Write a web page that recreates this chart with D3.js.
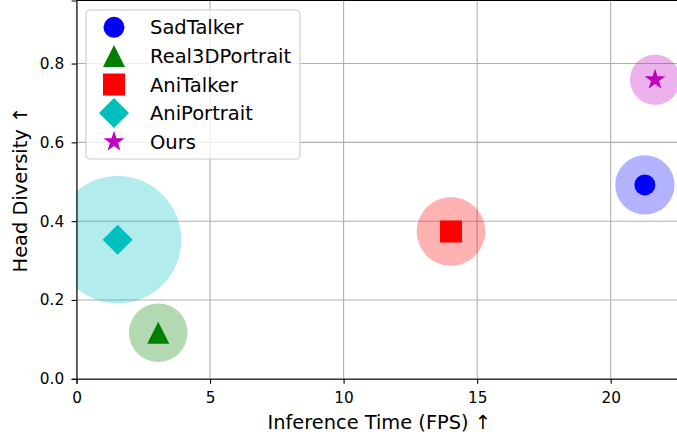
<!DOCTYPE html>
<html>
<head>
<meta charset="utf-8">
<script src="https://cdn.jsdelivr.net/npm/d3@7"></script>
<style>
  body { margin: 0; background: #fff; }
  svg { display: block; font-family: "DejaVu Sans", sans-serif; }
</style>
</head>
<body>
<svg id="chart" width="677" height="436"></svg>
<script>
// data
const methods = ["SadTalker", "Real3DPortrait", "AniTalker", "AniPortrait", "Ours"];
const fps = [21.28, 3.06, 14.02, 1.54, 21.66];
const headDiversity = [0.492, 0.117, 0.374, 0.353, 0.759];
const bubbleSize = [8.8, 8.6, 11.8, 40.6, 6.3];
const xTicks = [0, 5, 10, 15, 20];
const yTicks = [0, 0.2, 0.4, 0.6, 0.8];

const colors = ["#0000ff", "#008000", "#ff0000", "#00bfbf", "#bf00bf"];

// matplotlib-like marker shapes as d3 symbol types (size = width in px here)
const markerCircle = { draw(ctx, w) { const r = w / 2; ctx.moveTo(r, 0); ctx.arc(0, 0, r, 0, 2 * Math.PI); } };
const markerSquare = { draw(ctx, w) { const h = w / 2; ctx.rect(-h, -h, w, w); } };
const markerTriangle = { draw(ctx, w) { const h = w / 2; ctx.moveTo(0, -h); ctx.lineTo(h, h); ctx.lineTo(-h, h); ctx.closePath(); } };
const markerDiamond = { draw(ctx, w) { const h = w / 2; ctx.moveTo(0, -h); ctx.lineTo(h, 0); ctx.lineTo(0, h); ctx.lineTo(-h, 0); ctx.closePath(); } };
const markerStar = { draw(ctx, w) {
    const R = w / 2 / Math.sin(Math.PI * 2 / 5), r = R * 0.381966;
    for (let i = 0; i < 10; i++) {
        const a = -Math.PI / 2 + i * Math.PI / 5, rr = i % 2 ? r : R;
        if (i === 0) ctx.moveTo(rr * Math.cos(a), rr * Math.sin(a));
        else ctx.lineTo(rr * Math.cos(a), rr * Math.sin(a));
    }
    ctx.closePath();
} };
const markers = [
    { type: markerCircle, w: 21 },
    { type: markerTriangle, w: 22 },
    { type: markerSquare, w: 22 },
    { type: markerDiamond, w: 30 },
    { type: markerStar, w: 21 }
];

const points = methods.map((m, i) => ({
    name: m, x: fps[i], y: headDiversity[i], size: bubbleSize[i], color: colors[i], marker: markers[i]
}));

const svg = d3.select("#chart");
const plotLeft = 76.5, plotRight = 682, plotTop = 0.5, plotBottom = 378.8;

const x = d3.scaleLinear().domain([0, 22.67]).range([plotLeft, plotRight]);
const y = d3.scaleLinear().domain([0, 0.96]).range([plotBottom, plotTop]);
const r = d3.scaleSqrt().domain([0, d3.max(bubbleSize)]).range([0, 63.7]);

svg.append("rect").attr("width", 677).attr("height", 436).attr("fill", "#fff");

svg.append("clipPath").attr("id", "plot-clip")
    .append("rect").attr("x", plotLeft).attr("y", plotTop)
    .attr("width", plotRight - plotLeft).attr("height", plotBottom - plotTop);

// grid
const grid = svg.append("g").attr("stroke", "#b0b0b0").attr("stroke-width", 1.1);
grid.selectAll("line.gx").data(xTicks).enter().append("line")
    .attr("x1", d => x(d)).attr("x2", d => x(d)).attr("y1", plotTop).attr("y2", plotBottom);
grid.selectAll("line.gy").data(yTicks).enter().append("line")
    .attr("x1", plotLeft).attr("x2", plotRight).attr("y1", d => y(d)).attr("y2", d => y(d));

const plot = svg.append("g").attr("clip-path", "url(#plot-clip)");

// bubbles
plot.selectAll("circle.bubble").data(points).enter().append("circle")
    .attr("class", "bubble")
    .attr("cx", d => x(d.x)).attr("cy", d => y(d.y)).attr("r", d => r(d.size))
    .attr("fill", d => d.color).attr("fill-opacity", 0.3);

// markers
plot.selectAll("path.marker").data(points).enter().append("path")
    .attr("class", "marker")
    .attr("transform", d => `translate(${x(d.x)},${y(d.y)})`)
    .attr("d", d => d3.symbol(d.marker.type, d.marker.w)())
    .attr("fill", d => d.color);

// axes
const xAxis = svg.append("g").attr("transform", `translate(0,${plotBottom})`)
    .call(d3.axisBottom(x).tickValues(xTicks).tickFormat(d3.format("d")).tickSize(4.9).tickPadding(8.3));
const yAxis = svg.append("g").attr("transform", `translate(${plotLeft},0)`)
    .call(d3.axisLeft(y).tickValues(yTicks).tickFormat(d3.format(".1f")).tickSize(4.9).tickPadding(7.5));
[xAxis, yAxis].forEach(a => {
    a.selectAll("text").attr("font-size", 15.3).attr("font-family", "DejaVu Sans").attr("fill", "#000");
    a.selectAll("line").attr("stroke", "#000").attr("stroke-width", 1.1);
    a.select(".domain").attr("stroke", "#000").attr("stroke-width", 1.1);
});
// top spine
svg.append("line").attr("x1", plotLeft).attr("x2", plotRight).attr("y1", plotTop).attr("y2", plotTop)
    .attr("stroke", "#000").attr("stroke-width", 1.1);

// axis labels
svg.append("text").attr("x", (plotLeft + plotRight) / 2).attr("y", 429.3)
    .attr("text-anchor", "middle").attr("font-size", 19.4)
    .text("Inference Time (FPS) ↑");
svg.append("text").attr("transform", `translate(27,${(plotTop + plotBottom) / 2}) rotate(-90)`)
    .attr("text-anchor", "middle").attr("font-size", 19.4)
    .text("Head Diversity ↑");

// legend
const legend = svg.append("g").attr("transform", "translate(86,10)");
legend.append("rect").attr("width", 214).attr("height", 149).attr("rx", 4)
    .attr("fill", "#fff").attr("fill-opacity", 0.8).attr("stroke", "#cccccc").attr("stroke-width", 1.1);
const items = legend.selectAll("g.item").data(points).enter().append("g")
    .attr("class", "item")
    .attr("transform", (d, i) => `translate(0,${17.3 + i * 28.6})`);
items.append("path")
    .attr("transform", "translate(28,0)")
    .attr("d", d => d3.symbol(d.marker.type, d.marker.w)())
    .attr("fill", d => d.color);
items.append("text").attr("x", 64).attr("y", 7).attr("font-size", 19.5)
    .text(d => d.name);
</script>
</body>
</html>
